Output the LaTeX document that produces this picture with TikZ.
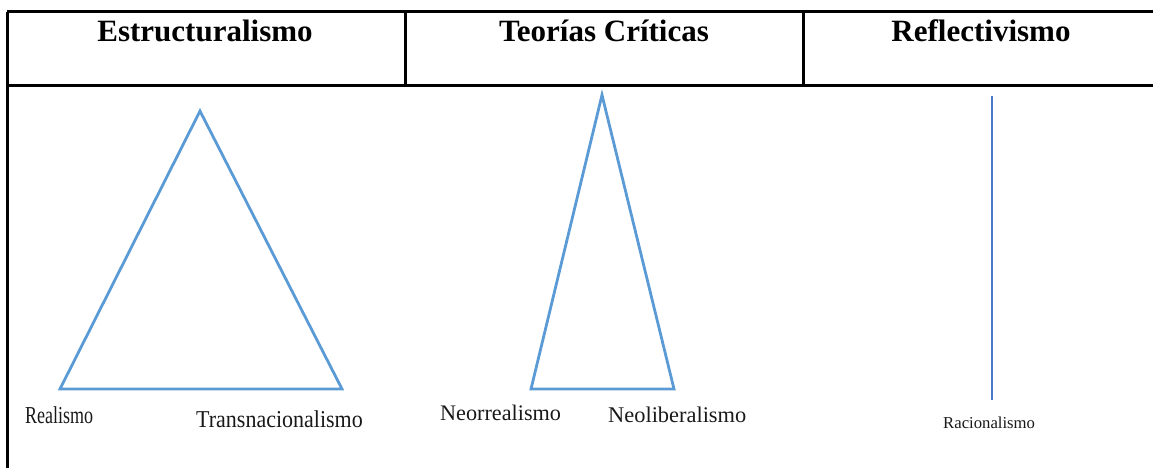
\documentclass[tikz,border=0pt]{standalone}
\usepackage{fontspec}
\setmainfont{Liberation Serif}
\definecolor{triblue}{HTML}{5B9BD5}
\definecolor{lineblue}{HTML}{4A78C8}
\tikzset{
  rule/.style={line width=3pt, black},
  tri/.style={line width=2.8pt, triblue, line join=miter},
  head/.style={inner sep=0pt, anchor=base, font=\fontsize{31}{31}\selectfont\bfseries},
  lbl/.style={inner sep=0pt, anchor=base west, text=black!90}
}
\begin{document}
\begin{tikzpicture}[x=1pt,y=-1pt]
\useasboundingbox (0,0) rectangle (1153,468);
% table
\coordinate (tl) at (7,12);
\coordinate (tr) at (1153,12);
\coordinate (ml) at (7,86);
\coordinate (mr) at (1153,86);
\coordinate (bl) at (7,468);
\draw[rule] (tl) -- (tr);
\draw[rule] (ml) -- (mr);
\draw[rule] (tl) -- (bl);
\draw[rule] (405,12) -- (405,86);
\draw[rule] (803,12) -- (803,86);
% headers
\node[head] (h1) at (205,42) {Estructuralismo};
\node[head] (h2) at (604,42) {Teorías Críticas};
\node[head] (h3) at (981,42) {Reflectivismo};
% triangle 1
\coordinate (a1) at (200,111);
\coordinate (b1) at (60,389);
\coordinate (c1) at (342,389);
\draw[tri] (a1) -- (b1) -- (c1) -- cycle;
% triangle 2
\coordinate (a2) at (602,95);
\coordinate (b2) at (531,389);
\coordinate (c2) at (674,389);
\draw[tri] (a2) -- (b2) -- (c2) -- cycle;
% vertical line
\coordinate (v1) at (992,96);
\coordinate (v2) at (992,400);
\draw[line width=1.8pt, lineblue] (v1) -- (v2);
% labels
\node[lbl] (l1) at (25,423) {\scalebox{1}[1.35]{\fontsize{18}{18}\selectfont Realismo}};
\node[lbl] (l2) at (196,427) {\scalebox{1}[1.1]{\fontsize{22}{22}\selectfont Transnacionalismo}};
\node[lbl] (l3) at (440,420) {\fontsize{22.2}{22}\selectfont Neorrealismo};
\node[lbl] (l4) at (608,422) {\fontsize{22.4}{22}\selectfont Neoliberalismo};
\node[lbl] (l5) at (943,428) {\fontsize{16.7}{17}\selectfont Racionalismo};
\end{tikzpicture}
\end{document}
